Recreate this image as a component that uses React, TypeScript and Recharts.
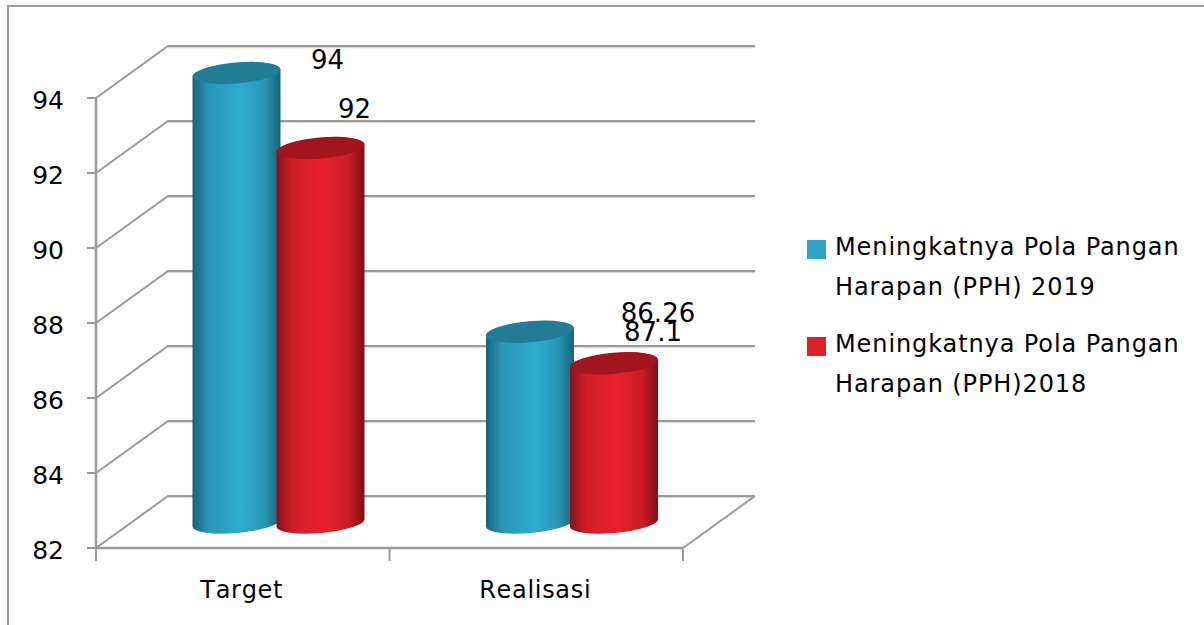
import { Bar, BarChart, CartesianGrid, LabelList, Legend, XAxis, YAxis } from "recharts";

const categories = ["Target", "Realisasi"];
const pph2019 = [94, 87.1];
const pph2018 = [92, 86.26];
const yTicks = [82, 84, 86, 88, 90, 92, 94];
const seriesNames = [
	"Meningkatnya Pola Pangan Harapan (PPH) 2019",
	"Meningkatnya Pola Pangan Harapan (PPH)2018",
];

const data = categories.map((name, i) => ({
	name,
	pph2019: pph2019[i],
	pph2018: pph2018[i],
}));

const FONT = "'DejaVu Sans', sans-serif";
const GRAY = "#9a9a9a";
const WALL_DX = 72;
const WALL_DY = -52;
const BAR_DX = 35.5;
const BAR_DY = -25;
const BAND = 293.5;
const TILT = 0.087;

function wallLine(props: any) {
	const { x1, x2, y1, index } = props;
	const isFloor = y1 > 540;
	const backY = y1 + WALL_DY;
	return (
		<g key={`wall-${index}`} fill="none">
			<line x1={x1 + WALL_DX} y1={backY + 1.5} x2={x2 + WALL_DX} y2={backY + 1.5} stroke="#dcdcdc" strokeWidth={1.5} />
			<polyline
				points={`${x1},${y1} ${x1 + WALL_DX},${backY} ${x2 + WALL_DX},${backY}`}
				stroke={GRAY}
				strokeWidth={2}
			/>
			{isFloor && (
				<line x1={x2} y1={y1} x2={x2 + WALL_DX} y2={backY} stroke={GRAY} strokeWidth={2} />
			)}
		</g>
	);
}

function cylinder(body: string, lid: string) {
	return (props: any) => {
		const { x, y, width, height } = props;
		const cx = x + width / 2 + BAR_DX;
		const rx = 44;
		const ry = 10;
		const topY = y + BAR_DY;
		const botY = y + height + BAR_DY;
		const lift = rx * TILT;
		const path = `M${cx - rx},${topY + lift} L${cx - rx},${botY + lift}
			A${rx},${ry} -5 0 0 ${cx + rx},${botY - lift}
			L${cx + rx},${topY - lift}
			A${rx},${ry} -5 0 0 ${cx - rx},${topY + lift} Z`;
		return (
			<g>
				<path d={path} fill={`url(#${body})`} />
				<ellipse
					cx={cx}
					cy={topY}
					rx={rx}
					ry={ry + 0.5}
					fill={lid}
					transform={`rotate(-5 ${cx} ${topY})`}
				/>
			</g>
		);
	};
}

function valueLabel(nudges: Array<[number, number]>) {
	return (props: any) => {
		const { x, y, width, value, index } = props;
		const [dx, dy] = nudges[index];
		return (
			<text
				x={x + width / 2 + BAR_DX + dx}
				y={y + BAR_DY + dy}
				textAnchor="middle"
				dominantBaseline="central"
				fontFamily={FONT}
				fontSize={26}
				fill="#000"
			>
				{value}
			</text>
		);
	};
}

function categoryTick(props: any) {
	const { x, y, payload, index } = props;
	const top = y - 7;
	return (
		<g>
			<line x1={x - BAND / 2} y1={top} x2={x - BAND / 2} y2={top + 12} stroke={GRAY} strokeWidth={2} />
			{index === categories.length - 1 && (
				<line x1={x + BAND / 2} y1={top} x2={x + BAND / 2} y2={top + 12} stroke={GRAY} strokeWidth={2} />
			)}
			<text
				x={x - 1}
				y={y + 34}
				textAnchor="middle"
				dominantBaseline="central"
				fontFamily={FONT}
				fontSize={24}
				letterSpacing={0.7}
				style={{ fontKerning: "none" }}
				fill="#000"
			>
				{payload.value}
			</text>
		</g>
	);
}

function legendContent() {
	const colors = ["#2ea4c6", "#dd1f2a"];
	return (
		<div style={{ fontFamily: FONT, fontSize: 24, letterSpacing: 0.9, color: "#000" }}>
			{seriesNames.map((name, i) => (
				<div key={name} style={{ display: "flex", marginBottom: 17 }}>
					<span
						style={{
							width: 19,
							height: 19,
							marginTop: 13,
							marginRight: 9,
							flexShrink: 0,
							background: colors[i],
						}}
					/>
					<span style={{ lineHeight: "40px", width: 350 }}>{name}</span>
				</div>
			))}
		</div>
	);
}

export default function App() {
	return (
		<div style={{ position: "absolute", left: 0, top: 0, width: 1204, height: 625, background: "#fff", overflow: "hidden" }}>
			<div
				style={{
					position: "absolute",
					left: 7,
					top: 5,
					right: 0,
					bottom: 0,
					borderTop: `2px solid ${GRAY}`,
					borderLeft: `2px solid ${GRAY}`,
				}}
			/>
			<BarChart
				width={1204}
				height={625}
				data={data}
				barSize={84}
				barGap={0}
				barCategoryGap="21.4%"
				margin={{ top: 98, right: 131, bottom: 17, left: 0 }}
			>
				<defs>
					<linearGradient id="blueBody" x1="0" y1="0" x2="1" y2="0">
						<stop offset="0" stopColor="#1a6379" />
						<stop offset="0.18" stopColor="#2896b3" />
						<stop offset="0.55" stopColor="#2faccd" />
						<stop offset="0.82" stopColor="#2996b3" />
						<stop offset="1" stopColor="#1a6276" />
					</linearGradient>
					<linearGradient id="redBody" x1="0" y1="0" x2="1" y2="0">
						<stop offset="0" stopColor="#86121a" />
						<stop offset="0.18" stopColor="#d01d28" />
						<stop offset="0.55" stopColor="#e7212d" />
						<stop offset="0.82" stopColor="#cb1c26" />
						<stop offset="1" stopColor="#7d1017" />
					</linearGradient>
				</defs>
				<CartesianGrid vertical={false} horizontal={wallLine} stroke={GRAY} />
				<XAxis
					dataKey="name"
					height={60}
					axisLine={{ stroke: GRAY, strokeWidth: 2.5 }}
					tickLine={false}
					tick={categoryTick}
					interval={0}
				/>
				<YAxis
					domain={[82, 94]}
					ticks={yTicks}
					width={96}
					axisLine={{ stroke: GRAY, strokeWidth: 2.5 }}
					tickLine={{ stroke: GRAY, strokeWidth: 2 }}
					tickSize={9}
					tickMargin={23}
					tick={{ fontFamily: FONT, fontSize: 25, fill: "#000", dy: 2 }}
				/>
				<Legend
					layout="vertical"
					align="right"
					verticalAlign="top"
					content={legendContent}
					wrapperStyle={{ left: 807, top: 227, right: "auto", width: 390 }}
				/>
				<Bar
					dataKey="pph2019"
					name={seriesNames[0]}
					fill="#2ea4c6"
					shape={cylinder("blueBody", "#217d96")}
					isAnimationActive={false}
				>
					<LabelList dataKey="pph2019" content={valueLabel([[91, -13], [123, 0]])} />
				</Bar>
				<Bar
					dataKey="pph2018"
					name={seriesNames[1]}
					fill="#dd1f2a"
					shape={cylinder("redBody", "#a3151e")}
					isAnimationActive={false}
				>
					<LabelList dataKey="pph2018" content={valueLabel([[34, -39], [44, -50]])} />
				</Bar>
			</BarChart>
		</div>
	);
}
